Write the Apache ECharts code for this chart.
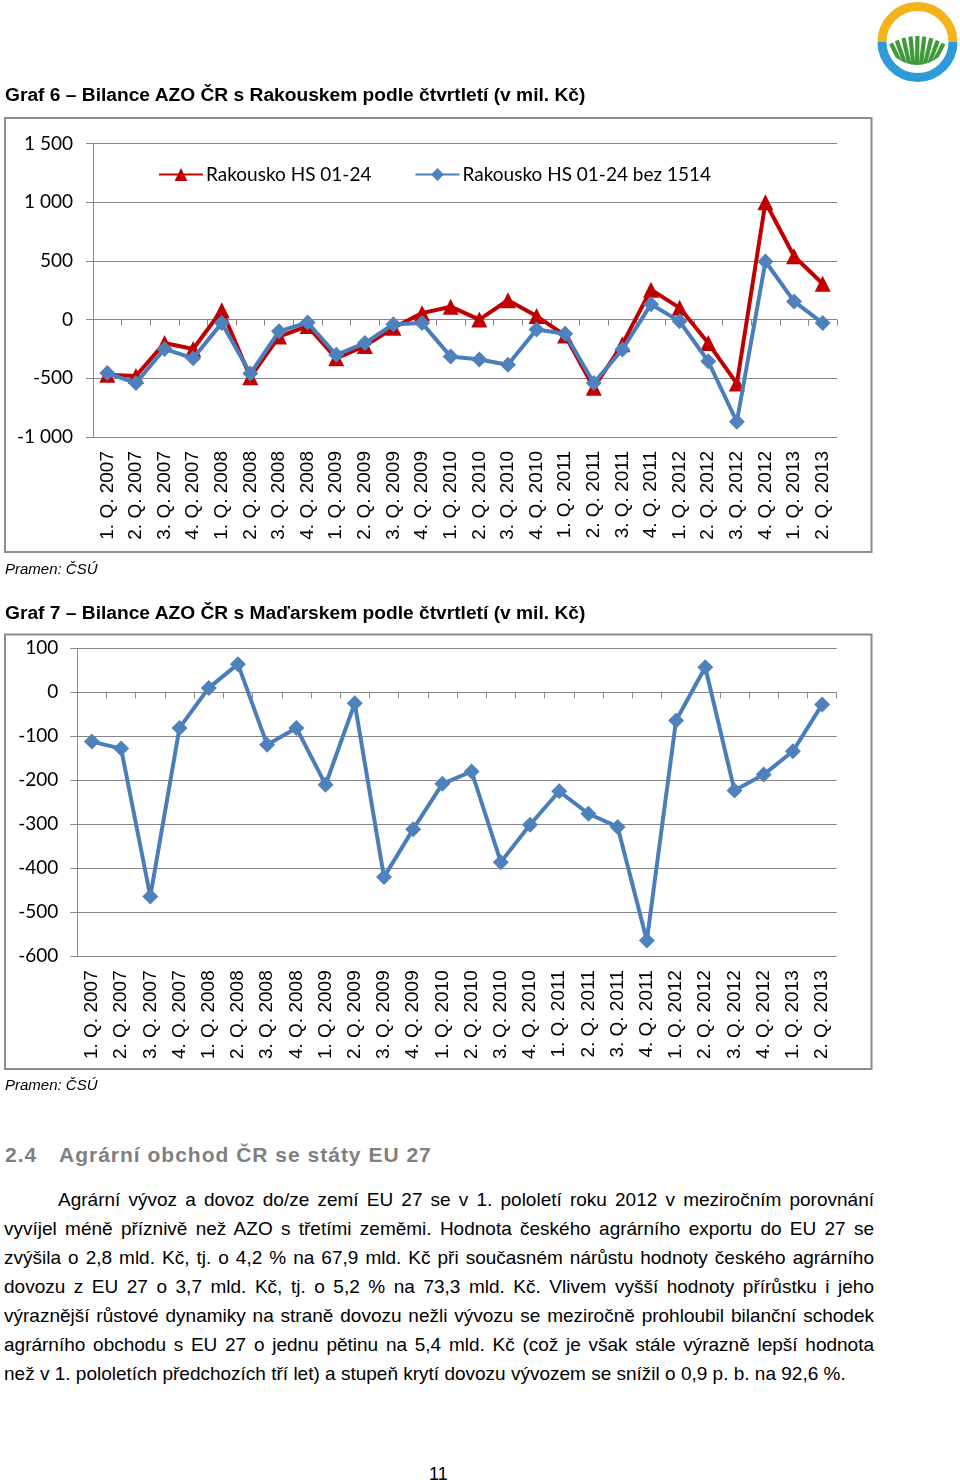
<!DOCTYPE html>
<html><head><meta charset="utf-8">
<script src="https://cdn.jsdelivr.net/npm/echarts@6/dist/echarts.min.js"></script>
<style>
html,body{margin:0;padding:0;background:#fff}
body{width:960px;height:1480px;position:relative;overflow:hidden;font-family:"Liberation Sans",Arial,sans-serif;color:#000}
#chart{position:absolute;left:0;top:0;width:960px;height:1100px}
.t{position:absolute;white-space:nowrap;line-height:1}
.cap{font-weight:bold;font-size:19.2px;left:5px}
.src{font-style:italic;font-size:15px;left:5px}
.h{font-weight:bold;font-size:21px;letter-spacing:1px;color:#7f7f7f}
.ln{position:absolute;left:4px;width:870px;font-size:19px;line-height:29px;height:29px;white-space:nowrap;text-align:justify;text-align-last:justify}
.ln.last{text-align-last:left}
</style></head><body>
<svg style="position:absolute;left:872px;top:-3px" width="90" height="90" viewBox="0 0 90 90">
  <defs><clipPath id="fld"><path d="M16 48 Q45 30 74 48 L67 60 Q45 76 23 60 Z"/></clipPath></defs>
  <path d="M10 45 A35.5 35.5 0 0 1 81 45" stroke="#F2B31B" stroke-width="9" fill="none"/>
  <path d="M81 45 A35.5 35.5 0 0 1 10 45" stroke="#2E9AD8" stroke-width="9" fill="none"/>
  <g clip-path="url(#fld)" stroke="#3F9B3A" stroke-width="4.2">
    <line x1="33" y1="75" x2="11" y2="30"/><line x1="36" y1="75" x2="20" y2="30"/>
    <line x1="39" y1="75" x2="29" y2="30"/><line x1="42" y1="75" x2="37.5" y2="30"/>
    <line x1="45" y1="75" x2="45.5" y2="30"/><line x1="48" y1="75" x2="53.5" y2="30"/>
    <line x1="51" y1="75" x2="62" y2="30"/><line x1="54" y1="75" x2="71" y2="30"/>
    <line x1="57" y1="75" x2="80" y2="30"/>
  </g>
</svg>
<div id="chart"></div>
<div class="t cap" style="top:85px">Graf 6 – Bilance AZO ČR s Rakouskem podle čtvrtletí (v mil. Kč)</div>
<div class="t src" style="top:561px">Pramen: ČSÚ</div>
<div class="t cap" style="top:603px">Graf 7 – Bilance AZO ČR s Maďarskem podle čtvrtletí (v mil. Kč)</div>
<div class="t src" style="top:1077px">Pramen: ČSÚ</div>
<div class="t h" style="top:1144px;left:5px">2.4</div>
<div class="t h" style="top:1144px;left:59px">Agrární obchod ČR se státy EU 27</div>
<div class="ln" style="top:1185px;left:58px;width:816px">Agrární vývoz a dovoz do/ze zemí EU 27 se v 1. pololetí roku 2012 v meziročním porovnání</div>
<div class="ln" style="top:1214px">vyvíjel méně příznivě než AZO s třetími zeměmi. Hodnota českého agrárního exportu do EU 27 se</div>
<div class="ln" style="top:1243px">zvýšila o 2,8 mld. Kč, tj. o 4,2 % na 67,9 mld. Kč při současném nárůstu hodnoty českého agrárního</div>
<div class="ln" style="top:1272px">dovozu z EU 27 o 3,7 mld. Kč, tj. o 5,2 % na 73,3 mld. Kč. Vlivem vyšší hodnoty přírůstku i jeho</div>
<div class="ln" style="top:1301px">výraznější růstové dynamiky na straně dovozu nežli vývozu se meziročně prohloubil bilanční schodek</div>
<div class="ln" style="top:1330px">agrárního obchodu s EU 27 o jednu pětinu na 5,4 mld. Kč (což je však stále výrazně lepší hodnota</div>
<div class="ln last" style="top:1359px">než v 1. pololetích předchozích tří let) a stupeň krytí dovozu vývozem se snížil o 0,9 p. b. na 92,6 %.</div>
<div class="t" style="top:1465px;left:429px;font-size:18px">11</div>
<script>
const categories = ['1. Q. 2007','2. Q. 2007','3. Q. 2007','4. Q. 2007','1. Q. 2008','2. Q. 2008','3. Q. 2008','4. Q. 2008','1. Q. 2009','2. Q. 2009','3. Q. 2009','4. Q. 2009','1. Q. 2010','2. Q. 2010','3. Q. 2010','4. Q. 2010','1. Q. 2011','2. Q. 2011','3. Q. 2011','4. Q. 2011','1. Q. 2012','2. Q. 2012','3. Q. 2012','4. Q. 2012','1. Q. 2013','2. Q. 2013'];
const rakouskoHS = [-470,-480,-200,-250,80,-490,-145,-55,-330,-225,-70,55,110,0,165,30,-135,-580,-210,255,100,-200,-545,1000,540,305];
const rakouskoBez = [-455,-540,-250,-330,-30,-460,-100,-25,-300,-200,-40,-30,-315,-340,-385,-85,-120,-540,-255,130,-15,-355,-870,495,155,-30];
const madarsko = [-112,-128,-464,-81,10,64,-119,-81,-210,-25,-420,-311,-208,-180,-386,-301,-225,-276,-306,-564,-64,57,-223,-187,-134,-28];
const seriesNames = ['Rakousko HS 01-24','Rakousko HS 01-24 bez 1514','Maďarsko'];
const yTicks1 = [-1000,-500,0,500,1000,1500];
const yTickLabels1 = ['-1 000','-500','0','500','1 000','1 500'];
const yTicks2 = [-600,-500,-400,-300,-200,-100,0,100];
const yTickLabels2 = ['-600','-500','-400','-300','-200','-100','0','100'];

const GRID = '#868686';
const labelAxis = (gi) => ({
  gridIndex: gi, type: 'category', data: categories, position: 'bottom',
  axisLine: {show: false, onZero: false}, axisTick: {show: false},
  axisLabel: {interval: 0, rotate: 90, margin: 14, fontSize: 19, fontFamily: 'Liberation Sans', color: '#000'},
  splitLine: {show: false}
});
const zeroAxis = (gi) => ({
  gridIndex: gi, type: 'category', data: categories, position: 'top',
  axisLine: {show: true, onZero: true, lineStyle: {color: GRID, width: 1}},
  axisTick: {show: true, inside: true, length: 6, interval: 0, lineStyle: {color: GRID}},
  axisLabel: {show: false, interval: 0}, splitLine: {show: false}
});
const yAxisDef = (gi, ticks, labels, min, max, interval, margin) => ({
  gridIndex: gi, type: 'value', min: min, max: max, interval: interval,
  axisLine: {show: true, lineStyle: {color: GRID, width: 1}},
  axisTick: {show: true, length: 7, lineStyle: {color: GRID}},
  splitLine: {show: true, lineStyle: {color: GRID, width: 1}},
  axisLabel: {margin: margin, fontSize: 19, fontFamily: 'Lato', color: '#000',
    formatter: v => { const i = ticks.indexOf(v); return i >= 0 ? labels[i] : ''; }}
});

const chart = echarts.init(document.getElementById('chart'), null, {renderer: 'canvas'});
chart.setOption({
  animation: false,
  graphic: [
    {type: 'rect', shape: {x: 5, y: 118, width: 866.5, height: 434}, style: {fill: 'none', stroke: '#8c8c8c', lineWidth: 2}, z: -1},
    {type: 'rect', shape: {x: 5, y: 634.5, width: 866.5, height: 434.5}, style: {fill: 'none', stroke: '#8c8c8c', lineWidth: 2}, z: -1}
  ],
  legend: {
    data: [seriesNames[0], seriesNames[1]], left: 158, top: 165, padding: 0, itemWidth: 44, itemHeight: 16, itemGap: 43,
    textStyle: {fontSize: 19, fontFamily: 'Lato', color: '#000', padding: [0, 0, 0, -2]}
  },
  grid: [
    {left: 93, top: 143.5, width: 744, height: 293.5, containLabel: false, outerBoundsMode: 'none'},
    {left: 77.3, top: 648.3, width: 759.4, height: 308, containLabel: false, outerBoundsMode: 'none'}
  ],
  xAxis: [labelAxis(0), zeroAxis(0), labelAxis(1), zeroAxis(1)],
  yAxis: [
    yAxisDef(0, yTicks1, yTickLabels1, -1000, 1500, 500, 20),
    yAxisDef(1, yTicks2, yTickLabels2, -600, 100, 100, 19)
  ],
  series: [
    {name: seriesNames[0], type: 'line', xAxisIndex: 0, yAxisIndex: 0, data: rakouskoHS,
     symbol: 'triangle', symbolSize: 16, showAllSymbol: true,
     lineStyle: {color: '#C00000', width: 4}, itemStyle: {color: '#C00000'}, z: 2},
    {name: seriesNames[1], type: 'line', xAxisIndex: 0, yAxisIndex: 0, data: rakouskoBez,
     symbol: 'diamond', symbolSize: 16, showAllSymbol: true,
     lineStyle: {color: '#4A7EBB', width: 4}, itemStyle: {color: '#4F81BD'}, z: 3},
    {name: seriesNames[2], type: 'line', xAxisIndex: 2, yAxisIndex: 1, data: madarsko,
     symbol: 'diamond', symbolSize: 16, showAllSymbol: true,
     lineStyle: {color: '#4A7EBB', width: 4}, itemStyle: {color: '#4F81BD'}, z: 3}
  ]
});
</script>
</body></html>
